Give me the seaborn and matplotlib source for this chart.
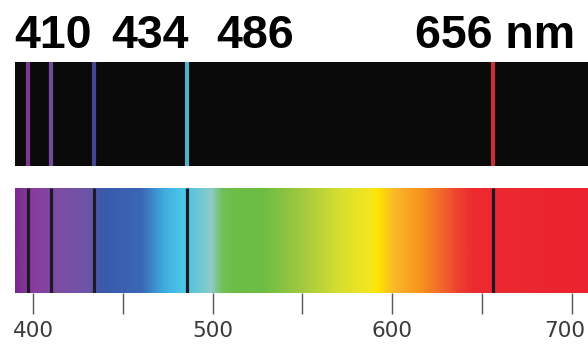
import numpy as np
import seaborn as sns
import matplotlib.pyplot as plt
import matplotlib.transforms as mtransforms
from matplotlib.colors import LinearSegmentedColormap

# hydrogen balmer lines (nm)
line_nm = [397, 410, 434, 486, 656]
line_colors = ['#8a3c9e', '#7d52ad', '#4b4ca6', '#5fc2de', '#dc343a']
label_nm = ['410', '434', '486', '656 nm']
label_x = [14, 111, 216, 415]  # left edges in pixels

tick_nm = [400, 450, 500, 550, 600, 650, 700]
tick_labels = ['400', '', '500', '', '600', '', '700']

# spectrum colour stops
stop_nm = [390, 398, 415, 432, 437, 460, 473, 482, 490, 499, 505, 512, 528,
           549, 571, 588, 592, 602, 616, 627, 638, 646, 709]
stop_colors = ['#782a8e', '#8a3a9c', '#7b4fa5', '#6a55a8', '#3a58a8', '#3b68b6',
               '#40ade0', '#4ac4e8', '#62c6d8', '#8ccbc8', '#72c05a', '#6cbe45',
               '#6dbd45', '#a0c840', '#d6df30', '#f5e61e', '#fde500', '#fbb62a',
               '#f7941d', '#f26b2a', '#ee3e2f', '#ec2a2f', '#eb2330']

xmin, xmax = stop_nm[0], stop_nm[-1]

sns.set_theme(style='white')
fig = plt.figure(figsize=(5.88, 3.46), dpi=100)

ax_em = fig.add_axes([15 / 588, (346 - 166) / 346, 573 / 588, 104 / 346])
ax_ab = fig.add_axes([15 / 588, (346 - 293) / 346, 573 / 588, 105 / 346])

# emission spectrum
ax_em.set_facecolor('#0a0a0a')
for nm, c in zip(line_nm, line_colors):
    sns.rugplot(x=[nm], height=1, color=c, linewidth=3.0, ax=ax_em, alpha=0.9)

# absorption spectrum
pos = [(s - xmin) / (xmax - xmin) for s in stop_nm]
cmap = LinearSegmentedColormap.from_list('spec', list(zip(pos, stop_colors)))
grad = np.linspace(0, 1, 1000).reshape(1, -1)
ax_ab.imshow(grad, cmap=cmap, aspect='auto', extent=[xmin, xmax, 0, 1])
sns.rugplot(x=line_nm, height=1, color='#1b1a26', linewidth=2.3, ax=ax_ab)

for ax in (ax_em, ax_ab):
    ax.set_xlim(xmin, xmax)
    ax.set_ylim(0, 1)
    ax.set_yticks([])
    sns.despine(ax=ax, left=True, bottom=True)

ax_em.set_xticks([])
ax_ab.set_xticks(tick_nm)
ax_ab.set_xticklabels(tick_labels, fontsize=15.5, color='#3a3a3a')
ax_ab.tick_params(axis='x', direction='out', length=15, width=1,
                  color='#555555', pad=5, bottom=True)

# last label sits a bit left of its tick so it stays inside the picture
last = ax_ab.get_xticklabels()[-1]
last.set_transform(last.get_transform() +
                   mtransforms.ScaledTranslation(-0.07, 0, fig.dpi_scale_trans))

for txt, px in zip(label_nm, label_x):
    fig.text(px / 588, (346 - 48) / 346, txt, fontsize=33.5, fontweight='bold',
             family='Liberation Sans', color='black', va='baseline', ha='left')

fig.savefig('out.png', dpi=100)
